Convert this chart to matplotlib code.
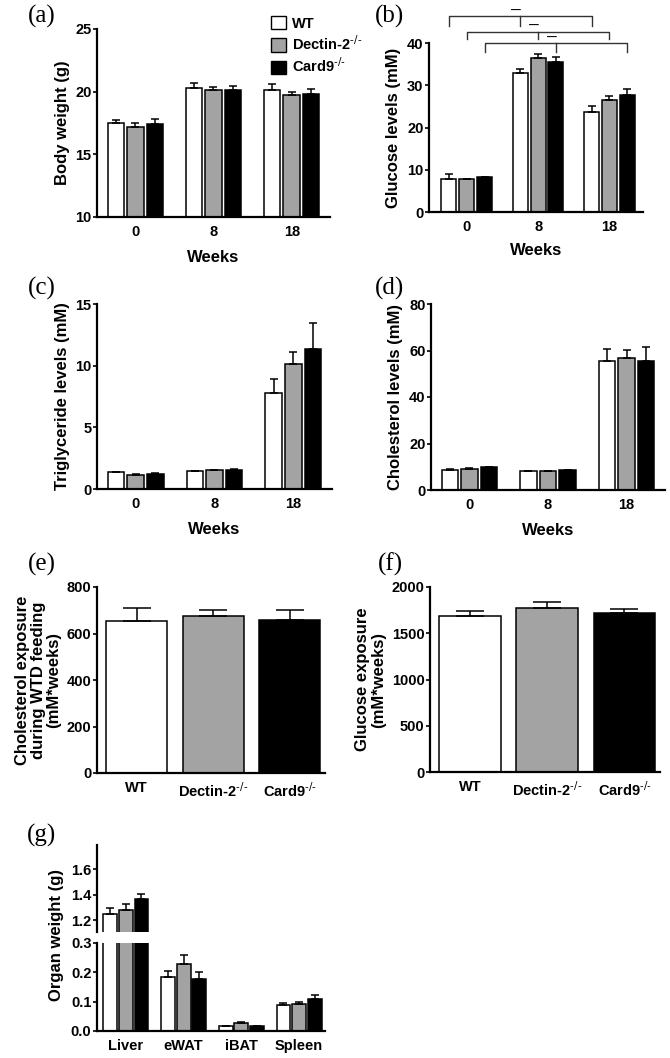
import matplotlib
matplotlib.use("Agg")
import matplotlib.pyplot as plt
import numpy as np
from matplotlib.patches import Patch

W, H = 670, 1058

GROUPS = ["WT", r"Dectin-2$^{\text{-/-}}$", r"Card9$^{\text{-/-}}$"]
COLORS = ["white", "#a3a3a3", "black"]
WEEKS = ["0", "8", "18"]
ORGANS = ["Liver", "eWAT", "iBAT", "Spleen"]

# rows = WT, Dectin-2, Card9 ; columns = week 0, 8, 18
body_weight = [[17.5, 20.3, 20.1], [17.2, 20.1, 19.7], [17.4, 20.1, 19.8]]
body_weight_err = [[0.2, 0.4, 0.5], [0.3, 0.3, 0.25], [0.4, 0.35, 0.45]]
glucose = [[7.8, 32.9, 23.7], [7.8, 36.4, 26.5], [8.2, 35.4, 27.6]]
glucose_err = [[1.1, 1.0, 1.4], [0.1, 1.0, 1.0], [0.2, 1.2, 1.6]]
triglyceride = [[1.35, 1.43, 7.75], [1.15, 1.52, 10.1], [1.22, 1.55, 11.35]]
triglyceride_err = [[0.05, 0.07, 1.2], [0.05, 0.05, 1.0], [0.08, 0.05, 2.15]]
cholesterol = [[8.6, 8.0, 55.5], [9.2, 8.0, 56.8], [9.7, 8.6, 55.6]]
cholesterol_err = [[0.4, 0.3, 5.3], [0.4, 0.3, 3.4], [0.3, 0.2, 6.0]]
chol_exposure = [653, 674, 657]
chol_exposure_err = [55, 27, 45]
gluc_exposure = [1685, 1768, 1722]
gluc_exposure_err = [60, 70, 36]
organ_weight = [[1.25, 0.183, 0.016, 0.089], [1.28, 0.228, 0.027, 0.091], [1.368, 0.178, 0.016, 0.108]]
organ_weight_err = [[0.045, 0.022, 0.0, 0.008], [0.045, 0.03, 0.003, 0.008], [0.042, 0.022, 0.0, 0.014]]

BOLD = dict(family="Liberation Sans", weight="bold")
TICK_SIZE = 10.5
YLAB_SIZE = 12
XLAB_SIZE = 12


def add_axes(fig, left, right, top, bottom):
    return fig.add_axes([left / W, 1 - bottom / H, (right - left) / W, (bottom - top) / H])


def style(ax, bottom=True):
    for s in ["top", "right"]:
        ax.spines[s].set_visible(False)
    ax.spines["left"].set_linewidth(1.6)
    ax.spines["bottom"].set_linewidth(1.6)
    if not bottom:
        ax.spines["bottom"].set_visible(False)
    ax.tick_params(axis="y", length=3, width=1.2, pad=1)
    ax.tick_params(axis="x", length=0, pad=6)
    for lab in ax.get_xticklabels() + ax.get_yticklabels():
        lab.set_fontproperties(matplotlib.font_manager.FontProperties(**BOLD, size=TICK_SIZE))


def grouped(ax, vals, errs, width=0.21, step=0.25, base=0):
    n = len(vals[0])
    x = np.arange(n)
    for i, (v, e) in enumerate(zip(vals, errs)):
        xs = x + (i - 1) * step
        ax.bar(xs, np.array(v) - base, width, bottom=base, color=COLORS[i], edgecolor="black", linewidth=1.1, zorder=2)
        ax.errorbar(xs, v, yerr=[np.zeros(n), e], fmt="none", ecolor="black", elinewidth=1.1, capsize=3, capthick=1.1, zorder=3)
    return x


def main() -> None:
    fig = plt.figure(figsize=(W / 100, H / 100), dpi=100)

    # (a) body weight
    ax = add_axes(fig, 97, 330, 29, 217)
    x = grouped(ax, body_weight, body_weight_err, base=10)
    ax.set_ylim(10, 25)
    ax.set_yticks([10, 15, 20, 25])
    ax.set_xlim(-0.49, 2.49)
    ax.set_xticks(x, WEEKS)
    ax.set_ylabel("Body weight (g)", **BOLD, fontsize=YLAB_SIZE)
    ax.set_xlabel("Weeks", **BOLD, fontsize=XLAB_SIZE, labelpad=8)
    style(ax)

    # (b) glucose
    ax = add_axes(fig, 429, 643, 43, 212)
    x = grouped(ax, glucose, glucose_err)
    ax.set_ylim(0, 40)
    ax.set_yticks([0, 10, 20, 30, 40])
    ax.set_xlim(-0.53, 2.47)
    ax.set_xticks(x, WEEKS)
    ax.set_ylabel("Glucose levels (mM)", **BOLD, fontsize=YLAB_SIZE)
    ax.set_xlabel("Weeks", **BOLD, fontsize=XLAB_SIZE, labelpad=6)
    style(ax)
    # significance brackets: each genotype, week 0 vs 8 vs 18
    levels = [(46.3, 44.1), (42.7, 41.0), (39.9, 37.8)]
    for i, (top, drop) in enumerate(levels):
        xs = x + (i - 1) * 0.25
        ax.plot([xs[0], xs[0], xs[2], xs[2]], [drop, top, top, drop], color="#333333", lw=1.0, clip_on=False)
        ax.plot([xs[1], xs[1]], [top, drop], color="#333333", lw=1.0, clip_on=False)
        ax.text(xs[1] - 0.06, top + 0.2, "—", ha="center", va="bottom", fontsize=7, **BOLD, clip_on=False)

    # (c) triglyceride
    ax = add_axes(fig, 97, 332, 304, 489)
    x = grouped(ax, triglyceride, triglyceride_err)
    ax.set_ylim(0, 15)
    ax.set_yticks([0, 5, 10, 15])
    ax.set_xlim(-0.49, 2.49)
    ax.set_xticks(x, WEEKS)
    ax.set_ylabel("Triglyceride levels (mM)", **BOLD, fontsize=YLAB_SIZE)
    ax.set_xlabel("Weeks", **BOLD, fontsize=XLAB_SIZE, labelpad=8)
    style(ax)

    # (d) cholesterol
    ax = add_axes(fig, 431, 665, 304, 490)
    x = grouped(ax, cholesterol, cholesterol_err)
    ax.set_ylim(0, 80)
    ax.set_yticks([0, 20, 40, 60, 80])
    ax.set_xlim(-0.49, 2.49)
    ax.set_xticks(x, WEEKS)
    ax.set_ylabel("Cholesterol levels (mM)", **BOLD, fontsize=YLAB_SIZE)
    ax.set_xlabel("Weeks", **BOLD, fontsize=XLAB_SIZE, labelpad=8)
    style(ax)

    # (e), (f) exposures
    for box, vals, errs, ylim, ticks, ylabel in [
        ((97, 325, 587, 773), chol_exposure, chol_exposure_err, 800, [0, 200, 400, 600, 800],
         "Cholesterol exposure\nduring WTD feeding\n(mM*weeks)"),
        ((430, 660, 587, 772), gluc_exposure, gluc_exposure_err, 2000, [0, 500, 1000, 1500, 2000],
         "Glucose exposure\n(mM*weeks)"),
    ]:
        ax = add_axes(fig, *box)
        x = np.arange(len(GROUPS))
        ax.bar(x, vals, 0.8, color=COLORS, edgecolor="black", linewidth=1.1, zorder=2)
        ax.errorbar(x, vals, yerr=[np.zeros(3), errs], fmt="none", ecolor="black", elinewidth=1.1, capsize=10, capthick=1.1, zorder=3)
        ax.set_ylim(0, ylim)
        ax.set_yticks(ticks)
        ax.set_xlim(-0.52, 2.46)
        ax.set_xticks(x, GROUPS)
        ax.set_ylabel(ylabel, **BOLD, fontsize=YLAB_SIZE, linespacing=1.05)
        style(ax)

    # (g) organ weight, broken axis
    ax_top = add_axes(fig, 97, 325, 845, 932)
    ax_bot = add_axes(fig, 97, 325, 943, 1031)
    for a in (ax_top, ax_bot):
        x = grouped(a, organ_weight, organ_weight_err, width=0.24, step=0.27)
        a.set_xlim(-0.5, 3.45)
    ax_top.set_ylim(1.11, 1.79)
    ax_top.set_yticks([1.2, 1.4, 1.6])
    ax_top.set_xticks([])
    ax_bot.set_ylim(0, 0.3)
    ax_bot.set_yticks([0.0, 0.1, 0.2, 0.3])
    ax_bot.set_xticks(x, ORGANS)
    style(ax_top, bottom=False)
    style(ax_bot)
    ax_top.tick_params(axis="x", length=0)
    fig.text(57 / W, 1 - 935 / H, "Organ weight (g)", rotation=90, ha="center", va="center", **BOLD, fontsize=YLAB_SIZE)

    # panel letters
    for lab, px, py in [("(a)", 42, 16), ("(b)", 390, 16), ("(c)", 42, 288), ("(d)", 390, 288),
                        ("(e)", 42, 564), ("(f)", 390, 564), ("(g)", 42, 835)]:
        fig.text(px / W, 1 - py / H, lab, ha="center", va="center", family="Liberation Serif", fontsize=18)

    handles = [Patch(facecolor=c, edgecolor="black", linewidth=1.0) for c in COLORS]
    fig.legend(handles, GROUPS, loc="upper left", bbox_to_anchor=(258 / W, 1 - 3 / H), frameon=False,
               handlelength=1.0, handleheight=1.0, handletextpad=0.4, labelspacing=0.25,
               prop=dict(**BOLD, size=10.5))

    fig.savefig("out.png", dpi=100)


if __name__ == "__main__":
    main()
